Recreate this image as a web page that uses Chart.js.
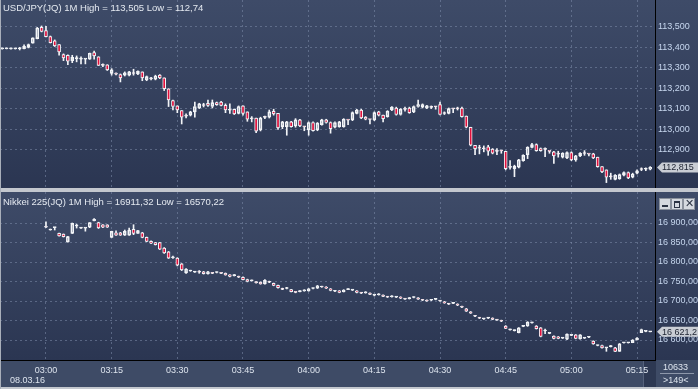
<!DOCTYPE html>
<html>
<head>
<meta charset="utf-8">
<script src="https://cdn.jsdelivr.net/npm/chart.js@4.4.0/dist/chart.umd.min.js"></script>
<style>
body { margin: 0; width: 698px; height: 389px; overflow: hidden; background: #c3c7ce; font-family: 'Liberation Sans', Arial, sans-serif; }
#wrap { position: relative; width: 698px; height: 389px; }
.panel { position: absolute; left: 0; width: 698px; background: linear-gradient(#3e4b68, #2b3652); }
#p1 { top: 0; height: 188px; }
#p2 { top: 192px; height: 168px; }
#xbar { position: absolute; left: 0; top: 360px; width: 698px; height: 27px; background: #3e4b66; }
#edge { position: absolute; left: 0; top: 0; width: 1px; height: 389px; background: #a9afba; }
canvas { position: absolute; left: 0; }
#c1 { top: 0; }
#c2 { top: 192px; }
.title { position: absolute; left: 3px; font-size: 9.5px; color: #e4e9f0; white-space: nowrap; }
.txt { position: absolute; font-size: 9px; color: #dde4ee; white-space: nowrap; }
.btn { position: absolute; top: 198px; width: 10px; height: 10px; background: #d5d9df; border: 1px solid #8a919c; }
#scroll { position: absolute; left: 643px; top: 361px; width: 12px; height: 26px; background: #2d3852; border-left: 1px solid #56627c; }
#sep { position: absolute; left: 660px; top: 373px; width: 34px; height: 1px; background: #8d97aa; }
</style>
</head>
<body>
<div id="wrap">
  <div class="panel" id="p1"></div>
  <div class="panel" id="p2"></div>
  <div id="xbar"></div>
  <div id="scroll"></div>
  <canvas id="c1" width="698" height="188"></canvas>
  <canvas id="c2" width="698" height="197"></canvas>
  <div id="edge"></div>
  <div class="title" style="top:2px">USD/JPY(JQ) 1M High = 113,505 Low = 112,74</div>
  <div class="title" style="top:196px">Nikkei 225(JQ) 1M High = 16911,32 Low = 16570,22</div>
  <div class="btn" style="left:659px"><div style="position:absolute;left:2px;top:6px;width:6px;height:2px;background:#2c3444"></div></div>
  <div class="btn" style="left:671px"><div style="position:absolute;left:2px;top:2px;width:4px;height:4px;border:1px solid #2c3444;border-top-width:2px"></div></div>
  <div class="btn" style="left:683px"><div style="position:absolute;left:0;top:-2px;width:10px;text-align:center;font-size:11px;line-height:13px;color:#2c3444">✕</div></div>
  <div class="txt" style="left:10px;top:375px">08.03.16</div>
  <div class="txt" style="left:663px;top:362px">10633</div>
  <div id="sep"></div>
  <div class="txt" style="left:663px;top:375px">&gt;149&lt;</div>
</div>
<script>
// one candle per minute, index 0 = 02:50
const tickMinutes = [10, 25, 40, 55, 70, 85, 100, 115, 130, 145];
const tickLabels = ['03:00', '03:15', '03:30', '03:45', '04:00', '04:15', '04:30', '04:45', '05:00', '05:15'];

const usdTicks = [112.9, 113.0, 113.1, 113.2, 113.3, 113.4, 113.5];
const nkTicks = [16600, 16650, 16700, 16750, 16800, 16850, 16900];

const usdOpen = [113.393,113.394,113.393,113.394,113.394,113.394,113.401,113.421,113.443,113.499,113.482,113.453,113.433,113.414,113.365,113.362,113.336,113.346,113.343,113.343,
  113.343,113.375,113.355,113.316,113.316,113.274,113.274,113.268,113.265,113.265,113.274,113.271,113.281,113.242,113.248,113.245,113.265,113.252,113.199,113.141,
  113.115,113.092,113.066,113.070,113.086,113.105,113.118,113.128,113.112,113.131,113.134,113.118,113.095,113.099,113.079,113.115,113.086,113.053,113.056,112.998,
  113.060,113.060,113.089,113.079,113.014,113.014,113.037,113.017,113.047,113.014,112.998,113.034,112.998,113.024,113.047,113.034,113.011,113.014,113.014,113.047,
  113.047,113.079,113.095,113.060,113.050,113.047,113.086,113.070,113.063,113.095,113.105,113.073,113.099,113.105,113.086,113.112,113.109,113.105,113.109,113.112,
  113.121,113.079,113.079,113.102,113.102,113.105,113.066,113.011,112.923,112.910,112.907,112.916,112.904,112.894,112.897,112.894,112.816,112.809,112.816,112.848,
  112.877,112.913,112.926,112.907,112.904,112.894,112.891,112.881,112.865,112.861,112.887,112.852,112.871,112.884,112.881,112.881,112.865,112.819,112.803,112.770,
  112.757,112.760,112.777,112.790,112.767,112.787,112.806,112.806,112.806];
const usdHigh = [113.398,113.398,113.397,113.397,113.401,113.413,113.417,113.447,113.498,113.505,113.503,113.456,113.437,113.414,113.369,113.364,113.362,113.359,113.355,113.344,
  113.373,113.382,113.355,113.320,113.316,113.297,113.277,113.271,113.281,113.284,113.294,113.286,113.281,113.261,113.255,113.265,113.268,113.252,113.199,113.144,
  113.115,113.092,113.076,113.089,113.134,113.128,113.128,113.144,113.144,113.134,113.138,113.125,113.125,113.100,113.115,113.115,113.086,113.063,113.056,113.060,
  113.066,113.095,113.099,113.079,113.040,113.040,113.040,113.053,113.050,113.014,113.037,113.037,113.034,113.050,113.050,113.037,113.037,113.040,113.053,113.047,
  113.086,113.099,113.099,113.063,113.050,113.086,113.089,113.070,113.092,113.112,113.109,113.102,113.109,113.109,113.115,113.144,113.125,113.118,113.115,113.112,
  113.134,113.086,113.105,113.102,113.109,113.109,113.066,113.011,112.923,112.923,112.920,112.923,112.907,112.907,112.897,112.894,112.848,112.826,112.855,112.877,
  112.916,112.933,112.930,112.910,112.910,112.894,112.894,112.894,112.887,112.891,112.891,112.874,112.887,112.897,112.881,112.884,112.865,112.819,112.803,112.787,
  112.780,112.783,112.793,112.793,112.787,112.803,112.813,112.813,112.819];
const usdLow = [113.392,113.393,113.392,113.392,113.388,113.393,113.398,113.421,113.442,113.476,113.452,113.422,113.405,113.362,113.336,113.316,113.326,113.330,113.320,113.320,
  113.342,113.343,113.312,113.307,113.288,113.265,113.266,113.232,113.261,113.261,113.265,113.268,113.238,113.238,113.242,113.242,113.248,113.190,113.112,113.095,
  113.082,113.027,113.056,113.066,113.060,113.102,113.110,113.112,113.105,113.118,113.115,113.082,113.079,113.073,113.076,113.070,113.040,113.037,112.985,112.993,
  113.053,113.056,113.070,113.001,113.004,112.972,113.011,113.011,113.014,112.994,112.972,112.992,112.994,113.021,113.031,112.982,113.008,113.011,113.011,113.024,
  113.043,113.076,113.053,113.047,113.027,113.043,113.066,113.037,113.060,113.092,113.070,113.070,113.089,113.079,113.082,113.109,113.105,113.102,113.102,113.099,
  113.071,113.073,113.076,113.082,113.095,113.060,113.008,112.920,112.877,112.881,112.891,112.874,112.881,112.877,112.884,112.803,112.806,112.770,112.813,112.845,
  112.858,112.910,112.894,112.894,112.868,112.884,112.835,112.865,112.861,112.858,112.848,112.845,112.868,112.874,112.871,112.858,112.816,112.790,112.741,112.757,
  112.754,112.757,112.774,112.760,112.764,112.783,112.799,112.799,112.803];
const usdClose = [113.397,113.397,113.396,113.396,113.395,113.406,113.414,113.447,113.495,113.479,113.453,113.424,113.408,113.378,113.349,113.333,113.352,113.348,113.344,113.344,
  113.372,113.359,113.313,113.313,113.291,113.291,113.270,113.252,113.277,113.281,113.273,113.284,113.252,113.258,113.247,113.261,113.252,113.199,113.144,113.112,
  113.095,113.060,113.065,113.086,113.112,113.125,113.117,113.118,113.131,113.121,113.118,113.095,113.094,113.076,113.112,113.079,113.050,113.052,112.992,113.056,
  113.059,113.086,113.076,113.008,113.037,113.037,113.014,113.047,113.017,113.013,113.034,112.994,113.031,113.047,113.034,113.004,113.034,113.037,113.050,113.046,
  113.082,113.095,113.056,113.050,113.049,113.082,113.070,113.053,113.089,113.109,113.073,113.099,113.098,113.082,113.112,113.121,113.121,113.115,113.108,113.111,
  113.073,113.078,113.102,113.101,113.101,113.063,113.011,112.923,112.907,112.909,112.906,112.894,112.884,112.893,112.896,112.809,112.815,112.822,112.852,112.874,
  112.913,112.926,112.897,112.897,112.903,112.893,112.871,112.880,112.884,112.887,112.852,112.871,112.884,112.883,112.880,112.861,112.819,112.793,112.767,112.769,
  112.777,112.780,112.790,112.764,112.783,112.799,112.805,112.807,112.815];

const nkOpen = [null,null,null,null,null,null,null,null,null,null,
  16889.5,16882,16888,16873.6,16871.8,16851.3,16873.6,16892.3,16887,16887,16889,16906,16900.8,16895.6,16895,16863.3,16875,16875,16868.5,16868.5,
  16884,16873.6,16875,16863.3,16853,16849.5,16849.5,16836,16826,16811,16810,16795,16772,16777,16774,16775,16775,16770,16772,16773,
  16772,16771,16767,16765,16763,16761,16755,16752,16749,16748,16744,16749,16745,16740,16731,16732,16729,16723,16724,16726,
  16726,16732,16733,16737,16736,16731,16725,16726,16724,16729,16728,16726,16721,16721,16720,16715,16716,16715,16711,16711,
  16710,16710,16706,16706,16709,16708,16703,16702,16702,16704,16701,16698,16693,16694,16692,16686,16680,16672,16662,16657,
  16654,16656,16656,16652,16650,16636,16626,16624,16619,16635,16636,16644,16636,16631,16623,16617,16610,16608,16605,16602,
  16612,16613,16603,16605,16607,16597,16586,16586,16580,16583,16580,16571,16593,16593,16593,16600,16619,16622,16621];
const nkHigh = [null,null,null,null,null,null,null,null,null,null,
  16903,16884.5,16889,16874,16872,16866,16900,16897,16888,16887.5,16901,16911.3,16902,16896,16895.6,16879,16880,16876,16882,16887,
  16895.6,16881,16876,16864,16854,16850,16850,16837,16827,16815,16811,16796,16783,16779,16776,16778,16776,16776,16773,16775,
  16773,16772,16768,16768,16764,16762,16756,16754,16750,16749,16755,16751,16746,16741,16733,16735,16730,16724,16727,16729,
  16732,16734,16740,16738,16737,16732,16727,16727,16729,16732,16729,16727,16722,16724,16721,16716,16719,16716,16712,16714,
  16711,16711,16707,16709,16711,16709,16704,16703,16704,16706,16702,16699,16694,16696,16693,16687,16681,16673,16663,16658,
  16655,16658,16657,16653,16651,16637,16628,16626,16632,16637,16647,16646,16637,16632,16628,16618,16611,16609,16606,16616,
  16613,16614,16614,16606,16608,16598,16587,16587,16580,16586,16581,16591,16594,16594,16601,16606,16628,16623,16622];
const nkLow = [null,null,null,null,null,null,null,null,null,null,
  16888.5,16881.5,16882,16866,16864,16851,16873,16887,16886,16879,16888,16905.5,16886,16888,16888.5,16863,16868,16868,16868,16868,
  16870,16873,16862,16852,16847,16843.5,16832,16822,16809,16809,16790,16778,16771,16776,16773,16771,16769,16769,16770,16772,
  16770,16766,16762,16764,16760,16754,16749,16751,16746,16743,16743,16747,16739,16733,16729,16731,16723,16721,16723,16725,
  16725,16731,16732,16735,16732,16726,16724,16721,16723,16729,16727,16721,16719,16720,16716,16713,16715,16711,16709,16710,
  16709,16706,16704,16705,16708,16704,16701,16699,16701,16703,16699,16694,16691,16693,16688,16683,16673,16668,16660,16655,
  16653,16655,16652,16650,16647,16629,16625,16623,16618,16634,16635,16643,16628,16608,16616,16616,16603,16603,16604,16601,
  16611,16603,16602,16604,16606,16589,16585,16579,16571,16582,16570.2,16571,16592,16592,16593,16600,16619,16621,16621];
const nkClose = [null,null,null,null,null,null,null,null,null,null,
  16889,16884,16888.5,16866.7,16865,16865,16899.2,16892.6,16887.5,16887.3,16900.8,16909.5,16887.2,16889,16889,16878.7,16868.5,16868.5,16878.7,16882,
  16873.6,16880.3,16863.3,16853,16848,16844.4,16832.6,16823,16810,16813,16792,16780,16782,16778,16775,16774,16770,16775,16771,16774,
  16771,16767,16763,16767,16761,16755,16750,16753,16747,16744,16753,16748,16740,16734,16730,16733,16724,16722,16726,16728,
  16731,16733,16739,16736,16733,16727,16726,16722,16728,16731,16728,16722,16720,16723,16717,16715,16718,16712,16710,16713,
  16710,16707,16705,16708,16710,16705,16702,16700,16703,16705,16700,16695,16692,16695,16689,16684,16674,16669,16661,16656,
  16654,16657,16653,16651,16648,16630,16627,16625,16631,16636,16646,16645,16629,16609,16623,16617,16604,16604,16605,16615,
  16612,16604,16613,16605,16607,16590,16586,16580,16580,16583,16571,16590,16594,16594,16600,16605,16627,16622,16621.2];

const FONT = "'Liberation Sans', Arial, sans-serif";
const GRID = 'rgba(125,140,170,0.55)';
const WHITE = '#f2f4f7';
const RED = '#e2103c';
const X_MIN = -0.5, X_MAX = 149.1;

function candleSets(o, h, l, c) {
    const body = [], upper = [], lower = [], fills = [];
    for (let i = 0; i < o.length; i++) {
        if (o[i] == null) continue;
        const top = Math.max(o[i], c[i]), bot = Math.min(o[i], c[i]);
        upper.push({ x: i, y: [top, h[i]] });
        lower.push({ x: i, y: [l[i], bot] });
        body.push({ x: i, y: [o[i], c[i]] });
        fills.push(c[i] < o[i] ? RED : 'rgba(0,0,0,0)');
    }
    return [
        { data: upper, backgroundColor: WHITE, borderWidth: 0, barThickness: 1, grouped: false },
        { data: lower, backgroundColor: WHITE, borderWidth: 0, barThickness: 1, grouped: false },
        { data: body, backgroundColor: fills, borderColor: WHITE, borderWidth: 1, borderSkipped: false, barThickness: 3, minBarLength: 1, grouped: false }
    ];
}

function xScale(showLabels) {
    return {
        type: 'linear', min: X_MIN, max: X_MAX, offset: false,
        grid: { color: GRID, offset: false, drawTicks: false },
        border: { display: showLabels, color: '#000', dash: [2, 3] },
        ticks: { display: showLabels, color: '#dde4ee', font: { size: 9, family: FONT }, padding: 5, maxRotation: 0, autoSkip: false,
                 callback: v => tickLabels[tickMinutes.indexOf(v)] },
        afterBuildTicks: s => { s.ticks = tickMinutes.map(v => ({ value: v })); },
        afterFit: s => { s.height = showLabels ? 29 : 0; s.paddingLeft = 0; s.paddingRight = 0; }
    };
}

function yScale(min, max, ticks, fmt) {
    return {
        position: 'right', min: min, max: max, beginAtZero: false,
        grid: { color: GRID, drawTicks: false },
        border: { color: '#000', dash: [2, 3] },
        ticks: { color: '#c6d6ee', font: { size: 9, family: FONT }, padding: 3, callback: fmt },
        afterBuildTicks: s => { s.ticks = ticks.map(v => ({ value: v })); },
        afterFit: s => { s.width = 43; s.paddingTop = 0; s.paddingBottom = 0; }
    };
}

function priceTag(text) {
    return {
        id: 'priceTag',
        afterDraw(chart) {
            const ctx = chart.ctx;
            const ds = chart.data.datasets[2].data;
            const y = chart.scales.y.getPixelForValue(ds[ds.length - 1].y[1]);
            const x0 = chart.chartArea.right;
            ctx.save();
            ctx.fillStyle = '#c9cdd4';
            ctx.beginPath();
            ctx.moveTo(x0 + 2, y);
            ctx.lineTo(x0 + 7, y - 5);
            ctx.lineTo(x0 + 43, y - 5);
            ctx.lineTo(x0 + 43, y + 5);
            ctx.lineTo(x0 + 7, y + 5);
            ctx.closePath();
            ctx.fill();
            ctx.fillStyle = '#1c2230';
            ctx.font = '9px ' + FONT;
            ctx.textBaseline = 'middle';
            ctx.fillText(text, x0 + 7, y + 0.5);
            ctx.restore();
        }
    };
}

const fmtUsd = v => v.toFixed(3).replace('.', ',');
const fmtNk = v => Math.floor(v / 1000) + ' ' + String(v % 1000).padStart(3, '0') + ',00';

function makeChart(id, sets, x, y, tag) {
    return new Chart(document.getElementById(id), {
        type: 'bar',
        data: { datasets: sets },
        options: {
            responsive: false, animation: false, events: [],
            layout: { padding: 0 },
            plugins: { legend: { display: false }, tooltip: { enabled: false } },
            scales: { x: x, y: y }
        },
        plugins: [tag]
    });
}

const usdMax = 113.5 + 27 / 205, usdMin = usdMax - 188 / 205;
const nkMax = 16900 + 31 / 0.39, nkMin = nkMax - 168 / 0.39;

makeChart('c1', candleSets(usdOpen, usdHigh, usdLow, usdClose), xScale(false),
    yScale(usdMin, usdMax, usdTicks, fmtUsd), priceTag('112,815'));
makeChart('c2', candleSets(nkOpen, nkHigh, nkLow, nkClose), xScale(true),
    yScale(nkMin, nkMax, nkTicks, fmtNk), priceTag('16 621,2'));
</script>
</body>
</html>
